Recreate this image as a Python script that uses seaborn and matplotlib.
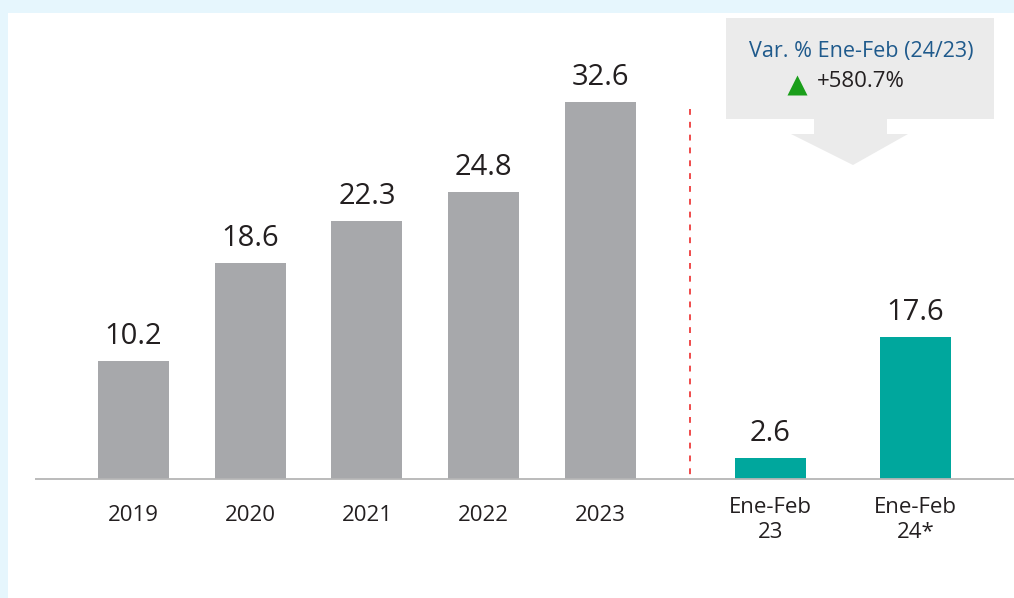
import matplotlib
matplotlib.use("Agg")
import matplotlib.pyplot as plt
import seaborn as sns
import pandas as pd
from matplotlib.patches import Rectangle, Polygon

# ---- data ----
years = ["2019", "2020", "2021", "2022", "2023"]
year_values = [10.2, 18.6, 22.3, 24.8, 32.6]
period_labels = ["Ene-Feb\n23", "Ene-Feb\n24*"]
period_values = [2.6, 17.6]
callout_title = "Var. % Ene-Feb (24/23)"
callout_value = "+580.7%"

sns.set_theme(style="white")
plt.rcParams["font.family"] = ["Open Sans", "DejaVu Sans"]

W, H = 1014, 598
fig = plt.figure(figsize=(W / 100, H / 100), dpi=100, facecolor="#e6f6fd")

def fx(px):
    return px / W

def fy(py):
    return 1 - py / H

# white panel
fig.patches.append(Rectangle((fx(8), 0), 1 - fx(8), fy(13), transform=fig.transFigure,
                             facecolor="white", edgecolor="none", zorder=-10))

base_y = 478.5
top_y = 13
ax_h = fy(top_y) - fy(base_y)

GRAY = "#a7a8ab"
TEAL = "#00a79d"
TXT = "#231f20"

# left axes (years)
axL = fig.add_axes([fx(35), fy(base_y), fx(690) - fx(35), ax_h])
dfL = pd.DataFrame({"cat": years, "val": year_values})
sns.barplot(data=dfL, x="cat", y="val", color=GRAY, saturation=1, width=0.608,
            linewidth=0, edgecolor="none", ax=axL)
axL.set_xlim(-0.8437, 4.767)
axL.set_ylim(0, 465.5 / 11.564)

# right axes (periods)
axR = fig.add_axes([fx(690), fy(base_y), fx(1014) - fx(690), ax_h])
dfR = pd.DataFrame({"cat": period_labels, "val": period_values})
sns.barplot(data=dfR, x="cat", y="val", color=TEAL, saturation=1, width=0.49,
            linewidth=0, edgecolor="none", ax=axR)
axR.set_xlim(-0.555, 1.679)
axR.set_ylim(0, 465.5 / 8.068)

for ax, vals in ((axL, year_values), (axR, period_values)):
    ax.set_facecolor("none")
    for s in ax.spines.values():
        s.set_visible(False)
    ax.set_yticks([])
    ax.set_xlabel("")
    ax.set_ylabel("")
    ax.tick_params(axis="x", length=0, labelsize=16, labelcolor=TXT)
    for i, v in enumerate(vals):
        ax.annotate(f"{v:.1f}", xy=(i, v), xytext=(0, 12.2), textcoords="offset points",
                    ha="center", va="baseline", fontsize=21, color=TXT)

axL.tick_params(axis="x", pad=19)
axR.tick_params(axis="x", pad=13)
for lab in axR.get_xticklabels():
    lab.set_linespacing(1.27)

# overlay for decorations
ov = fig.add_axes([0, 0, 1, 1], zorder=5)
ov.set_xlim(0, W)
ov.set_ylim(H, 0)
ov.axis("off")
ov.patch.set_alpha(0)

# baseline
ov.plot([35, 1014], [base_y, base_y], color="#b5b5b5", lw=1.3, solid_capstyle="butt")
# dashed separator
ov.plot([690, 690], [109, base_y - 1], color="#ef4b4b", lw=1.4, dashes=(3.0, 3.6))

# callout box + arrow
ov.add_patch(Rectangle((726, 18), 268, 101, facecolor="#ebebeb", edgecolor="none"))
ov.add_patch(Polygon([(814, 119), (887, 119), (887, 134), (908, 134), (853, 165),
                      (791, 134), (814, 134)], closed=True, facecolor="#ebebeb",
                     edgecolor="none"))
ov.text(861.5, 57, callout_title, ha="center", va="baseline", fontsize=15.5, color="#1f5a8c")
ov.plot([797], [84.5], marker="^", ms=15, color="#1a9e1a", mec="none")
ov.text(817, 87, callout_value, ha="left", va="baseline", fontsize=16, color=TXT)

fig.savefig("out.png", dpi=100, facecolor=fig.get_facecolor())
